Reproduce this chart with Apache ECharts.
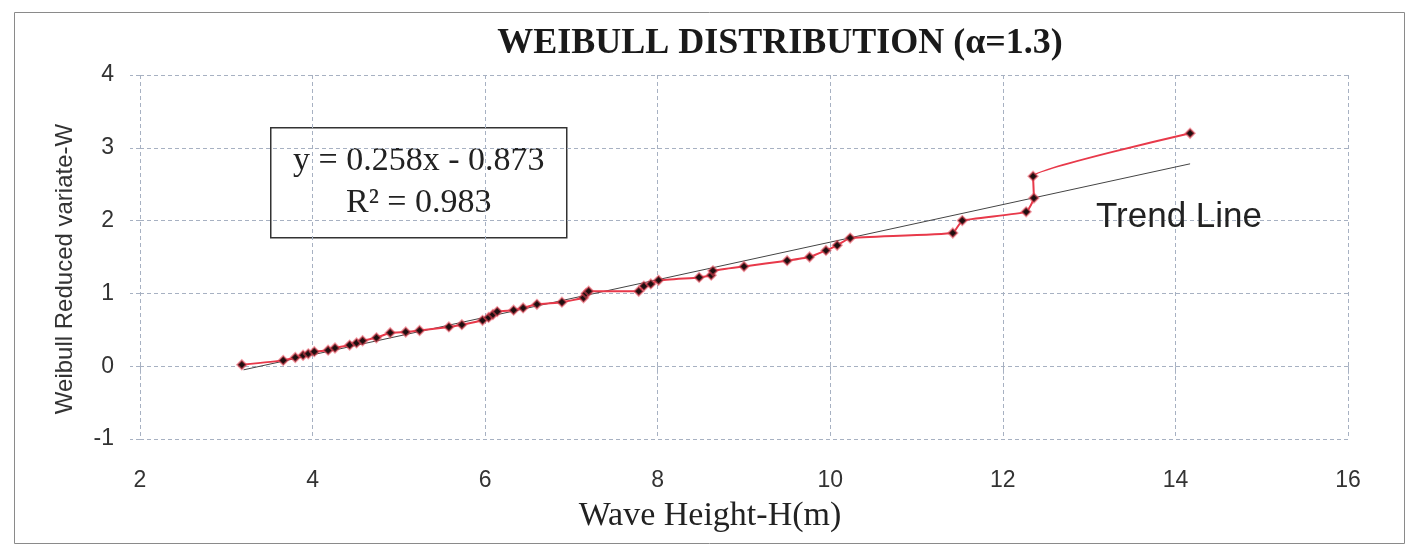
<!DOCTYPE html>
<html>
<head>
    <title>Weibull Distribution</title>
    <script src="https://cdn.jsdelivr.net/npm/echarts@6/dist/echarts.min.js"></script>
    <style>
        html, body { margin: 0; padding: 0; background: #fff; }
        #chart { width: 1415px; height: 548px; }
    </style>
</head>
<body>
    <div id="chart"></div>
    <script>
        // wave height H (m) and Weibull reduced variate W
        const waveHeight = [3.18, 3.66, 3.80, 3.89, 3.95, 4.02, 4.18, 4.26, 4.43, 4.51,
            4.58, 4.74, 4.90, 5.08, 5.24, 5.58, 5.73, 5.97, 6.04, 6.09,
            6.14, 6.33, 6.44, 6.60, 6.89, 7.14, 7.17, 7.20, 7.78, 7.84,
            7.92, 8.01, 8.48, 8.62, 8.64, 9.00, 9.50, 9.76, 9.95, 10.08,
            10.23, 11.42, 11.53, 12.27, 12.36, 12.35, 14.17];
        const reducedW = [0.02, 0.08, 0.12, 0.15, 0.17, 0.20, 0.22, 0.25, 0.29, 0.32,
            0.35, 0.39, 0.46, 0.47, 0.49, 0.54, 0.57, 0.63, 0.67, 0.71,
            0.75, 0.77, 0.80, 0.85, 0.88, 0.94, 1.00, 1.03, 1.03, 1.10,
            1.13, 1.18, 1.22, 1.25, 1.31, 1.37, 1.45, 1.50, 1.59, 1.66,
            1.76, 1.83, 2.00, 2.12, 2.31, 2.61, 3.20];

        // trend line end points (y = 0.258x - 0.873)
        const trendX = [3.2, 14.17];
        const trendY = [-0.05, 2.78];

        const xTicks = { min: 2, max: 16, interval: 2 };
        const yTicks = { min: -1, max: 4, interval: 1 };

        const chart = echarts.init(document.getElementById('chart'));

        const gridLine = { color: '#a7b1c2', width: 1, type: [4, 3] };

        const option = {
            animation: false,
            title: {
                text: 'WEIBULL DISTRIBUTION (α=1.3)',
                left: 775,
                textAlign: 'center',
                top: 21,
                textStyle: { fontFamily: 'Liberation Serif', fontWeight: 'bold', fontSize: 36, color: '#1a1a1a' }
            },
            grid: { left: 140, right: 67, top: 75, bottom: 109 },
            xAxis: {
                type: 'value',
                min: xTicks.min, max: xTicks.max, interval: xTicks.interval,
                name: 'Wave Height-H(m)',
                nameLocation: 'middle',
                nameGap: 60,
                nameTextStyle: { fontFamily: 'Liberation Serif', fontSize: 34, color: '#222', padding: [0, 68, 0, 0] },
                axisLine: { show: false },
                axisTick: { show: true, length: 8, lineStyle: gridLine },
                axisLabel: { margin: 30, fontFamily: 'Liberation Sans', fontSize: 23, color: '#333' },
                splitLine: { show: true, lineStyle: gridLine }
            },
            yAxis: {
                type: 'value',
                min: yTicks.min, max: yTicks.max, interval: yTicks.interval,
                name: 'Weibull Reduced variate-W',
                nameLocation: 'middle',
                nameGap: 63,
                nameTextStyle: { fontFamily: 'Liberation Sans', fontSize: 24, color: '#333', padding: [0, 24, 0, 0] },
                axisLine: { show: false },
                axisTick: { show: true, length: 10, lineStyle: gridLine },
                axisLabel: { margin: 26, fontFamily: 'Liberation Sans', fontSize: 23, color: '#333' },
                splitLine: { show: true, lineStyle: gridLine }
            },
            series: [
                {
                    name: 'Trend',
                    type: 'line',
                    data: trendX.map((x, i) => [x, trendY[i]]),
                    showSymbol: false,
                    lineStyle: { color: '#444', width: 1 },
                    z: 2
                },
                {
                    name: 'Data',
                    type: 'line',
                    data: waveHeight.map((x, i) => [x, reducedW[i]]),
                    smooth: 0.12,
                    symbol: 'diamond',
                    symbolSize: 9,
                    itemStyle: { color: '#1e0f10', borderColor: 'rgba(235,70,85,0.55)', borderWidth: 2 },
                    lineStyle: { color: '#e8394a', width: 2 },
                    z: 3
                }
            ],
            graphic: [
                {
                    type: 'rect',
                    left: 12, top: 10,
                    shape: { width: 1390, height: 531 },
                    style: { fill: 'none', stroke: '#8a8a8a', lineWidth: 1 },
                    z: -1
                },
                {
                    type: 'group',
                    left: 270, top: 127,
                    children: [
                        {
                            type: 'rect',
                            shape: { x: 0, y: 0, width: 296, height: 110 },
                            style: { fill: '#fff', stroke: '#333', lineWidth: 1.5 }
                        },
                        {
                            type: 'text',
                            x: 148, y: 33,
                            style: { text: 'y = 0.258x - 0.873', align: 'center', verticalAlign: 'middle', font: '34px "Liberation Serif"', fill: '#222' }
                        },
                        {
                            type: 'text',
                            x: 148, y: 75,
                            style: { text: 'R² = 0.983', align: 'center', verticalAlign: 'middle', font: '34px "Liberation Serif"', fill: '#222' }
                        }
                    ],
                    z: 10
                },
                {
                    type: 'text',
                    left: 1096, top: 200,
                    style: { text: 'Trend Line', font: '35px "Liberation Sans"', fill: '#222' },
                    z: 10
                }
            ]
        };

        chart.setOption(option);
    </script>
</body>
</html>
